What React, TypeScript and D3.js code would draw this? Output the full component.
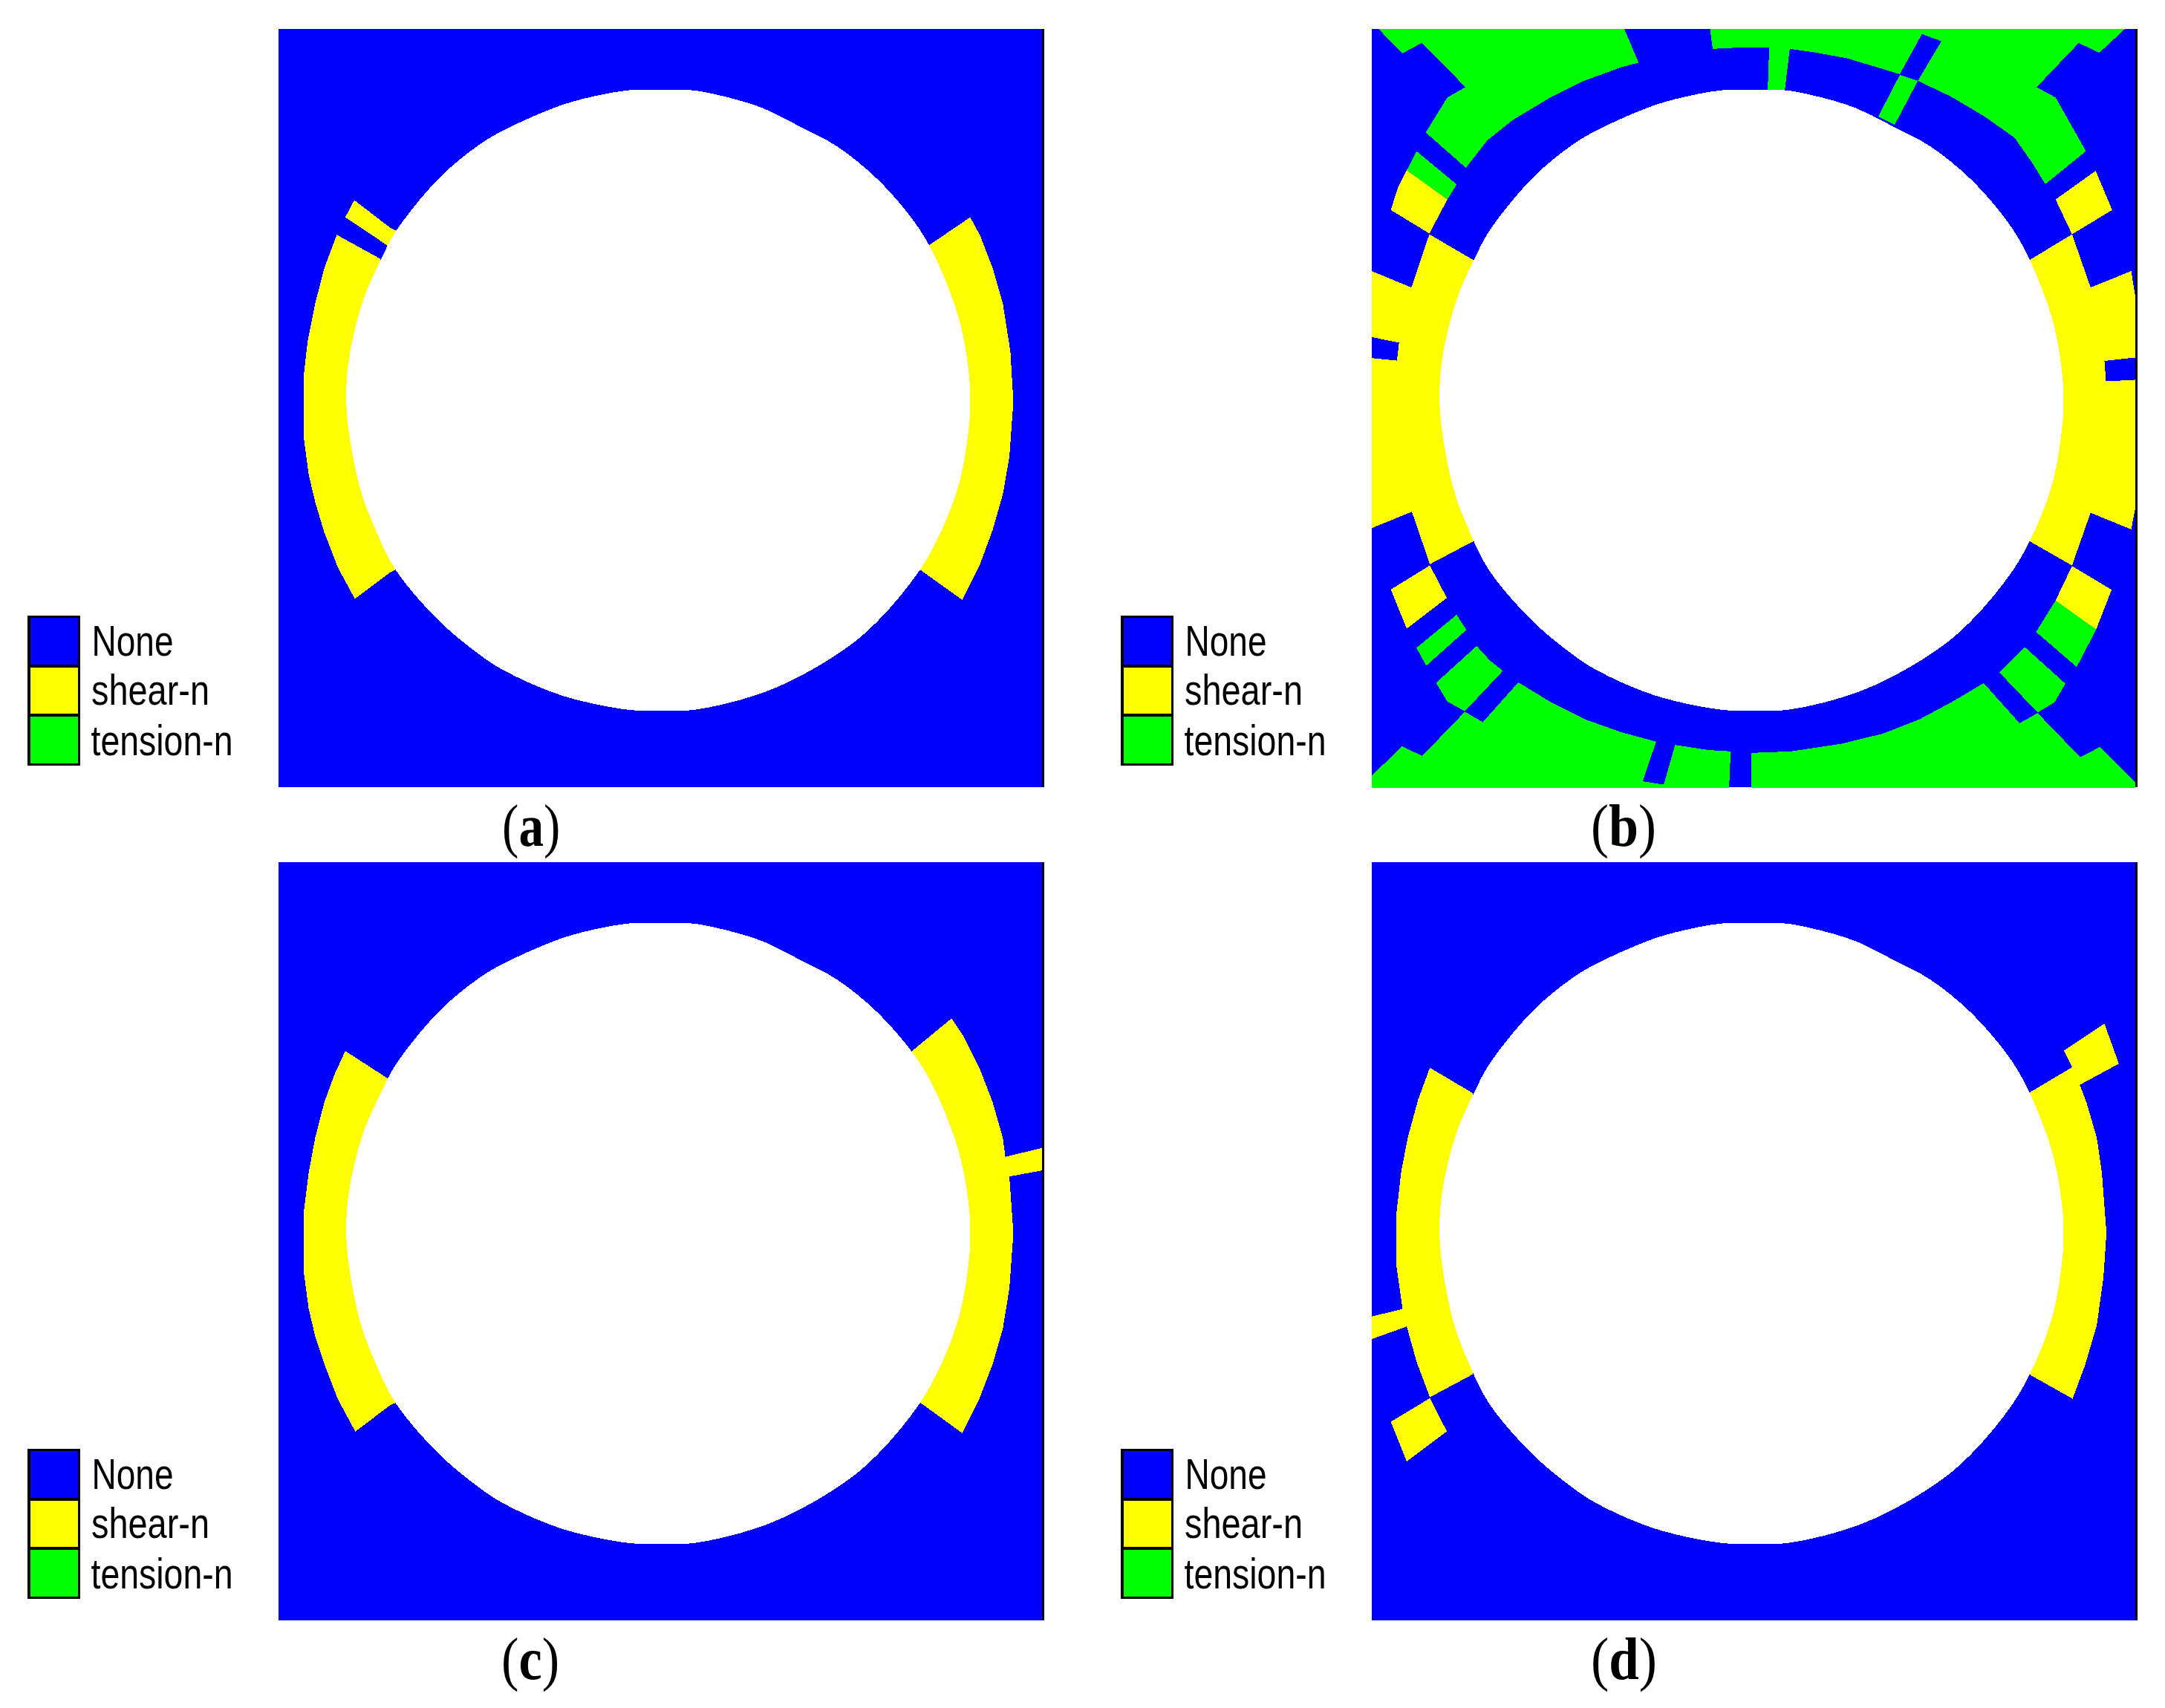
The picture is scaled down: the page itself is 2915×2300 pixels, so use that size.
import React from "react";
import * as d3 from "d3";

type Pt = [number, number];
type Poly = { kind: string; pts: Pt[] };

const legendLabels = ["None", "shear-n", "tension-n"];
const colours: Record<string, string> = { None: "#0000ff", "shear-n": "#ffff00", "tension-n": "#00ff00", hole: "#ffffff" };
const captions = ["a", "b", "c", "d"];

const holeOutline: Pt[] = [[720,150],[778,149],[845,150],[900,160],[985,185],[1060,222],[1135,262],[1215,327],[1285,407],[1320,462],[1345,515],[1368,575],[1385,635],[1398,720],[1400,768],[1398,815],[1380,925],[1346,1020],[1300,1105],[1215,1208],[1140,1270],[1000,1345],[850,1384],[778,1385],[720,1384],[585,1355],[470,1305],[417,1270],[340,1205],[255,1105],[215,1025],[185,945],[162,830],[157,768],[160,700],[174,625],[195,555],[227,485],[255,432],[340,327],[417,262],[470,230],[585,180],[660,160]];

const panelA: Poly[] = [
  { kind: "shear-n", pts: [[138,438],[113,505],[95,575],[80,650],[72,720],[72,840],[82,915],[95,970],[113,1030],[140,1100],[174,1163],[245,1110],[258,1104],[260,770],[225,486],[218,482]] },
  { kind: "shear-n", pts: [[173,369],[155,403],[240,460],[258,430],[246,425]] },
  { kind: "shear-n", pts: [[1400,403],[1316,460],[1290,770],[1300,1105],[1384,1165],[1418,1098],[1445,1025],[1465,955],[1478,880],[1486,770],[1480,670],[1465,575],[1445,505],[1420,440]] },
];

const panelC: Poly[] = [
  { kind: "shear-n", pts: [[155,407],[133,455],[113,510],[95,580],[82,650],[72,730],[72,845],[82,920],[95,975],[113,1030],[140,1100],[175,1165],[245,1112],[258,1107],[260,770],[240,462]] },
  { kind: "shear-n", pts: [[1363,342],[1283,408],[1270,770],[1300,1107],[1384,1168],[1418,1100],[1445,1030],[1465,960],[1478,880],[1486,770],[1478,657],[1543,645],[1543,600],[1470,618],[1465,580],[1445,510],[1420,445],[1385,375]] },
];

const panelD: Poly[] = [
  { kind: "shear-n", pts: [[138,441],[115,505],[95,580],[82,650],[72,740],[72,830],[85,922],[25,937],[25,982],[93,957],[113,1030],[138,1098],[222,1052],[250,770],[222,492]] },
  { kind: "shear-n", pts: [[1450,353],[1371,407],[1387,440],[1305,490],[1290,770],[1303,1052],[1388,1101],[1412,1035],[1435,955],[1448,860],[1454,770],[1445,650],[1435,580],[1415,510],[1402,475],[1478,433]] },
  { kind: "shear-n", pts: [[138,1100],[62,1147],[93,1226],[171,1166]] },
];

const panelBUpper: Poly[] = [
  { kind: "tension-n", pts: [[38,55],[85,150],[122,110],[170,205],[207,283],[172,323],[130,460],[208,598],[250,490],[300,410],[375,320],[435,260],[510,205],[544,187],[516,55]] },
  { kind: "tension-n", pts: [[683,55],[688,133],[738,128],[798,128],[795,300],[828,300],[838,133],[890,148],[950,170],[1052,232],[1095,75],[1133,103],[1087,258],[1150,318],[1215,395],[1275,480],[1310,580],[1335,662],[1414,533],[1355,323],[1318,283],[1400,110],[1440,148],[1490,55]] },
  { kind: "tension-n", pts: [[1052,235],[1087,258],[1042,430],[1010,398]] },
  { kind: "tension-n", pts: [[112,533],[190,663],[172,722],[93,608]] },
  { kind: "shear-n", pts: [[93,608],[172,722],[137,855],[62,763],[75,680]] },
  { kind: "shear-n", pts: [[1433,610],[1355,722],[1387,858],[1465,763]] },
  { kind: "shear-n", pts: [[25,1002],[102,1066],[137,858],[222,958],[300,1568],[25,1568]] },
  { kind: "None", pts: [[25,1260],[78,1282],[74,1352],[25,1342]] },
  { kind: "shear-n", pts: [[1387,858],[1305,958],[1250,1568],[1510,1568],[1510,1100],[1502,1002],[1423,1066]] },
  { kind: "None", pts: [[1510,1340],[1450,1353],[1453,1433],[1510,1427]] },
];

const panelBLower: Poly[] = [
  { kind: "shear-n", pts: [[25,0],[25,497],[103,433],[138,638],[223,548],[300,0]] },
  { kind: "shear-n", pts: [[1250,0],[1304,548],[1387,643],[1423,437],[1502,502],[1510,420],[1510,0]] },
  { kind: "shear-n", pts: [[138,643],[62,737],[93,890],[171,770]] },
  { kind: "tension-n", pts: [[190,836],[112,965],[131,1035],[209,895]] },
  { kind: "tension-n", pts: [[229,958],[150,1102],[172,1175],[206,1213],[280,1055],[255,1015]] },
  { kind: "tension-n", pts: [[206,1215],[123,1388],[84,1350],[25,1465],[25,1512],[720,1512],[723,1370],[680,1365],[615,1345],[593,1500],[552,1487],[578,1332],[510,1295],[440,1245],[375,1180],[310,1100],[241,1256]] },
  { kind: "tension-n", pts: [[763,1512],[763,1376],[840,1370],[940,1340],[1020,1300],[1090,1245],[1155,1175],[1215,1103],[1285,1260],[1320,1220],[1403,1393],[1441,1353],[1510,1490],[1510,1512]] },
  { kind: "tension-n", pts: [[1295,962],[1246,1062],[1320,1218],[1353,1178],[1374,1105]] },
  { kind: "shear-n", pts: [[1387,645],[1355,780],[1434,893],[1464,738]] },
  { kind: "tension-n", pts: [[1355,780],[1317,903],[1396,1040],[1434,893]] },
];

const PW = 1030;
const PH = 1021;
const LEFT = [375, 375 + 1472];
const TOP = [39, 39 + 1122];
const LEG_X = 37;
const LEG_Y = 829;
const LEG_ROW = 66.3;

function Polys({ polys, x, y, curve }: { polys: Poly[]; x: any; y: any; curve?: any }) {
  const line = d3.line<Pt>().x((d) => x(d[0])).y((d) => y(d[1])).curve(curve || d3.curveLinearClosed);
  return (
    <g shapeRendering="crispEdges">
      {polys.map((p, i) => (
        <path key={i} d={line(p.pts) || ""} fill={colours[p.kind]} />
      ))}
    </g>
  );
}

function Legend({ dx, dy }: { dx: number; dy: number }) {
  const widths = [110, 159, 191];
  const baselines = [54, 120, 188];
  const xs = [123.5, 123, 122.5];
  return (
    <g transform={`translate(${dx},${dy})`}>
      {legendLabels.map((l, i) => (
        <rect key={l} x={LEG_X + 1.75} y={LEG_Y + 1.5 + i * LEG_ROW} width={67.5} height={LEG_ROW} fill={colours[l]} stroke="#000" strokeWidth={3.5} shapeRendering="crispEdges" />
      ))}
      {legendLabels.map((l, i) => (
        <text key={l} x={xs[i]} y={LEG_Y + baselines[i]} fontFamily="Liberation Sans" fontSize={58} fill="#000" textLength={widths[i]} lengthAdjust="spacingAndGlyphs">
          {l}
        </text>
      ))}
    </g>
  );
}

function Caption({ x, y, s, sx }: { x: number; y: number; s: string; sx: number }) {
  return (
    <text transform={`translate(${x},${y}) scale(${sx},1)`} fontFamily="Liberation Serif" fontSize={80} fill="#000">
      (<tspan fontWeight="bold">{s}</tspan>)
    </text>
  );
}

export default function App() {
  const panelX = (left: number) => d3.scaleLinear().domain([22, 1546]).range([left, left + PW]);
  const panelY = (top: number) => d3.scaleLinear().domain([28, 1538]).range([top, top + PH]);
  const hole = (left: number, top: number) => (
    <Polys polys={[{ kind: "hole", pts: holeOutline }]} x={panelX(left)} y={panelY(top)} curve={d3.curveCatmullRomClosed} />
  );

  const cX = d3.scaleLinear().domain([22, 1546]).range([LEFT[0], LEFT[0] + PW]);
  const cY = d3.scaleLinear().domain([31, 1541]).range([TOP[1], TOP[1] + PH]);
  const dX = d3.scaleLinear().domain([25, 1510]).range([LEFT[1], LEFT[1] + 1028]);
  const dY = d3.scaleLinear().domain([31, 1543]).range([TOP[1], TOP[1] + PH]);
  const bUpperY = d3.scaleLinear().domain([0, 1568]).range([20, 560]);
  const bLowerY = d3.scaleLinear().domain([0, 1568]).range([540, 1080]);

  return (
    <svg width={2915} height={2300} style={{ position: "absolute", left: 0, top: 0, background: "#fff" }}>
      {LEFT.map((l) =>
        TOP.map((t) => (
          <g key={`${l}-${t}`}>
            <rect x={l} y={t} width={1028} height={PH} fill={colours.None} />
            <rect x={l + 1028} y={t} width={3} height={PH} fill="#000" />
          </g>
        ))
      )}
      <Polys polys={panelA} x={panelX(LEFT[0])} y={panelY(TOP[0])} />
      <Polys polys={panelBUpper} x={dX} y={bUpperY} />
      <Polys polys={panelBLower} x={dX} y={bLowerY} />
      <Polys polys={panelC} x={cX} y={cY} />
      <Polys polys={panelD} x={dX} y={dY} />
      {hole(LEFT[0], TOP[0])}
      {hole(LEFT[1], TOP[0])}
      {hole(LEFT[0], TOP[1])}
      {hole(LEFT[1], TOP[1])}
      <Legend dx={0} dy={0} />
      <Legend dx={1472} dy={0} />
      <Legend dx={0} dy={1122} />
      <Legend dx={1472} dy={1122} />
      <Caption x={676} y={1139} s={captions[0]} sx={0.84} />
      <Caption x={2142} y={1139} s={captions[1]} sx={0.9} />
      <Caption x={675} y={2261} s={captions[2]} sx={0.88} />
      <Caption x={2142} y={2261} s={captions[3]} sx={0.91} />
    </svg>
  );
}
